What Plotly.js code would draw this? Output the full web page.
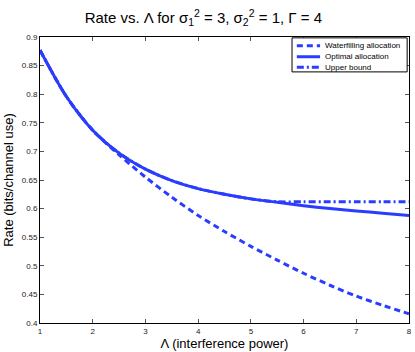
<!DOCTYPE html>
<html>
<head>
<meta charset="utf-8">
<script src="https://cdn.plot.ly/plotly-3.0.1.min.js"></script>
<style>
  html, body { margin: 0; padding: 0; background: #fff; }
  #chart { width: 415px; height: 352px; }
</style>
</head>
<body>
<div id="chart"></div>
<script>
// interference power values (x axis)
const lambda = [1, 1.5, 2, 2.5, 3, 3.5, 4, 4.5, 5, 5.5, 6, 6.5, 7, 7.5, 8];

// rates (bits/channel use)
const waterfilling = [0.877, 0.796, 0.737, 0.694, 0.655, 0.620, 0.588, 0.560, 0.534, 0.510, 0.487, 0.466, 0.447, 0.431, 0.416];
const optimal = [0.877, 0.796, 0.737, 0.697, 0.669, 0.649, 0.635, 0.625, 0.617, 0.611, 0.605, 0.600, 0.596, 0.592, 0.588];
const upperBound = [0.877, 0.796, 0.737, 0.697, 0.669, 0.649, 0.635, 0.625, 0.617, 0.612, 0.612, 0.612, 0.612, 0.612, 0.612];

const seriesNames = ["Waterfilling allocation", "Optimal allocation", "Upper bound"];

const xTicks = [1, 2, 3, 4, 5, 6, 7, 8];
const yTicks = [0.4, 0.45, 0.5, 0.55, 0.6, 0.65, 0.7, 0.75, 0.8, 0.85, 0.9];
const yTickText = ["0.4", "0.45", "0.5", "0.55", "0.6", "0.65", "0.7", "0.75", "0.8", "0.85", "0.9"];

const blue = "#2a3dff";
const font = "Liberation Sans, Arial, Helvetica, sans-serif";
const dashes = ["6px,4px", "solid", "7px,3px,2px,3px"];
const series = [waterfilling, optimal, upperBound];

const traces = series.map((ys, i) => ({
  x: lambda, y: ys, mode: "lines", name: seriesNames[i], showlegend: false,
  line: { color: blue, width: 3, dash: dashes[i], shape: "spline", smoothing: 0.8 }
}));

// matlab-style legend box, drawn with shapes + annotations (plotly rows are too tall)
const legX0 = 0.683, legX1 = 0.995, legY0 = 0.878, legY1 = 0.997;
const rowY = [0.969, 0.931, 0.894];
const shapes = [{
  type: "rect", xref: "paper", yref: "paper",
  x0: legX0, x1: legX1, y0: legY0, y1: legY1,
  line: { color: "#000", width: 1 }, fillcolor: "#fff", layer: "above"
}];
const annotations = [];
seriesNames.forEach((name, i) => {
  shapes.push({
    type: "line", xref: "paper", yref: "paper",
    x0: 0.696, x1: 0.759, y0: rowY[i], y1: rowY[i],
    line: { color: blue, width: 3, dash: dashes[i] }, layer: "above"
  });
  annotations.push({
    xref: "paper", yref: "paper", x: 0.766, y: rowY[i],
    xanchor: "left", yanchor: "middle", showarrow: false,
    text: name, font: { family: font, size: 8, color: "#000" }
  });
});

const axisCommon = {
  showline: true, linecolor: "#000", linewidth: 1, mirror: "ticks",
  ticks: "inside", ticklen: 4, tickcolor: "#555", showgrid: false, zeroline: false,
  tickfont: { family: font, size: 8, color: "#222" }
};

const layout = {
  width: 415, height: 352,
  margin: { l: 40, r: 6, t: 37, b: 29 },
  paper_bgcolor: "#fff", plot_bgcolor: "#fff",
  font: { family: font, color: "#000" },
  title: {
    text: "Rate vs. Λ for σ<sub>1</sub><sup>2</sup> = 3, σ<sub>2</sub><sup>2</sup> = 1, Γ = 4",
    font: { family: font, size: 15, color: "#000" },
    x: 0.49, xanchor: "center", y: 0.95, yanchor: "middle"
  },
  xaxis: Object.assign({}, axisCommon, {
    range: [1, 8], tickvals: xTicks,
    title: { text: "Λ (interference power)", font: { family: font, size: 13 }, standoff: 2 }
  }),
  yaxis: Object.assign({}, axisCommon, {
    range: [0.4, 0.9], tickvals: yTicks, ticktext: yTickText,
    title: { text: "Rate (bits/channel use)", font: { family: font, size: 13 }, standoff: 5 }
  }),
  showlegend: false,
  shapes: shapes,
  annotations: annotations
};

Plotly.newPlot("chart", traces, layout, { staticPlot: true, displayModeBar: false });
</script>
</body>
</html>
